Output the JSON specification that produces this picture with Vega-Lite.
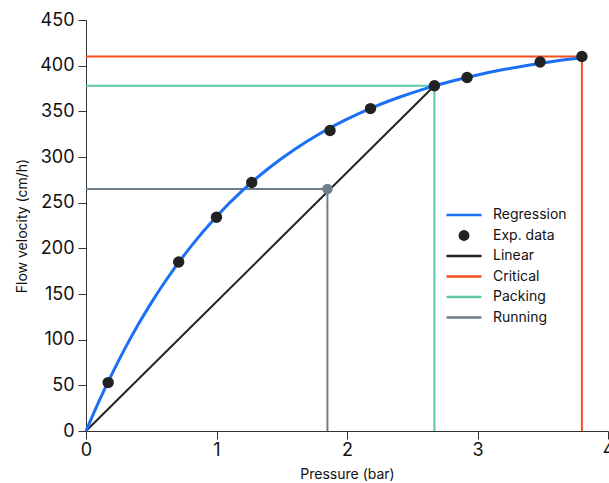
{
  "$schema": "https://vega.github.io/schema/vega-lite/v6.json",
  "width": 522,
  "height": 411,
  "autosize": "none",
  "padding": {"left": 86, "top": 20, "right": 1, "bottom": 52},
  "background": "white",
  "config": {
    "view": {"stroke": null},
    "font": "Inter",
    "axis": {
      "grid": false,
      "domainColor": "#333333",
      "tickColor": "#333333",
      "tickSize": 8,
      "labelFontSize": 18,
      "labelColor": "#111111",
      "titleFontSize": 14,
      "titleFontWeight": "normal",
      "titleColor": "#111111",
      "labelFont": "Inter",
      "titleFont": "Inter",
      "labelFlush": false,
      "labelOverlap": false
    }
  },
  "data": {
    "values": [
      {"series": "Regression", "x": 0, "y": 0, "o": 0},
      {"series": "Regression", "x": 0.1, "y": 32.7, "o": 1},
      {"series": "Regression", "x": 0.2, "y": 62.8, "o": 2},
      {"series": "Regression", "x": 0.3, "y": 90.7, "o": 3},
      {"series": "Regression", "x": 0.4, "y": 116.5, "o": 4},
      {"series": "Regression", "x": 0.5, "y": 140.3, "o": 5},
      {"series": "Regression", "x": 0.6, "y": 162.3, "o": 6},
      {"series": "Regression", "x": 0.8, "y": 201.4, "o": 7},
      {"series": "Regression", "x": 1.0, "y": 234.9, "o": 8},
      {"series": "Regression", "x": 1.2, "y": 263.4, "o": 9},
      {"series": "Regression", "x": 1.4, "y": 287.7, "o": 10},
      {"series": "Regression", "x": 1.6, "y": 308.5, "o": 11},
      {"series": "Regression", "x": 1.8, "y": 326.3, "o": 12},
      {"series": "Regression", "x": 2.0, "y": 341.4, "o": 13},
      {"series": "Regression", "x": 2.2, "y": 354.4, "o": 14},
      {"series": "Regression", "x": 2.4, "y": 365.4, "o": 15},
      {"series": "Regression", "x": 2.6, "y": 374.9, "o": 16},
      {"series": "Regression", "x": 2.8, "y": 382.9, "o": 17},
      {"series": "Regression", "x": 3.0, "y": 389.8, "o": 18},
      {"series": "Regression", "x": 3.2, "y": 395.7, "o": 19},
      {"series": "Regression", "x": 3.4, "y": 400.7, "o": 20},
      {"series": "Regression", "x": 3.6, "y": 405.0, "o": 21},
      {"series": "Regression", "x": 3.8, "y": 408.6, "o": 22},
      {"series": "Linear", "x": 0, "y": 0, "o": 0},
      {"series": "Linear", "x": 2.67, "y": 378, "o": 1},
      {"series": "Critical", "x": 0, "y": 410, "o": 0},
      {"series": "Critical", "x": 3.8, "y": 410, "o": 1},
      {"series": "Critical", "x": 3.8, "y": 0, "o": 2},
      {"series": "Packing", "x": 0, "y": 378, "o": 0},
      {"series": "Packing", "x": 2.67, "y": 378, "o": 1},
      {"series": "Packing", "x": 2.67, "y": 0, "o": 2},
      {"series": "Running", "x": 0, "y": 265, "o": 0},
      {"series": "Running", "x": 1.85, "y": 265, "o": 1},
      {"series": "Running", "x": 1.85, "y": 0, "o": 2},
      {"series": "RunPoint", "x": 1.85, "y": 265, "o": 0},
      {"series": "Exp. data", "x": 0.17, "y": 53, "o": 0},
      {"series": "Exp. data", "x": 0.71, "y": 185, "o": 1},
      {"series": "Exp. data", "x": 1.0, "y": 234, "o": 2},
      {"series": "Exp. data", "x": 1.27, "y": 272, "o": 3},
      {"series": "Exp. data", "x": 1.87, "y": 329, "o": 4},
      {"series": "Exp. data", "x": 2.18, "y": 353, "o": 5},
      {"series": "Exp. data", "x": 2.67, "y": 378, "o": 6},
      {"series": "Exp. data", "x": 2.92, "y": 387, "o": 7},
      {"series": "Exp. data", "x": 3.48, "y": 404, "o": 8},
      {"series": "Exp. data", "x": 3.8, "y": 410, "o": 9}
    ]
  },
  "encoding": {
    "x": {"field": "x", "type": "quantitative", "title": "Pressure (bar)",
      "scale": {"domain": [0, 4], "nice": false},
      "axis": {"values": [0, 1, 2, 3, 4], "labelPadding": 2, "titlePadding": 8}},
    "y": {"field": "y", "type": "quantitative", "title": "Flow velocity (cm/h)",
      "scale": {"domain": [0, 450], "nice": false},
      "axis": {"values": [0, 50, 100, 150, 200, 250, 300, 350, 400, 450], "labelPadding": 4, "titlePadding": 10}}
  },
  "layer": [
    {
      "transform": [{"filter": "datum.series !== 'Exp. data' && datum.series !== 'RunPoint' && datum.series !== 'Regression'"}],
      "mark": {"type": "line", "strokeWidth": 2, "clip": false},
      "encoding": {
        "color": {"field": "series", "type": "nominal",
          "scale": {"domain": ["Regression", "Exp. data", "Linear", "Critical", "Packing", "Running"],
                    "range": ["#1a6ff5", "#222222", "#222222", "#f2501e", "#5ec6a9", "#6e7e8b"]},
          "legend": {
            "title": null,
            "orient": "none",
            "legendX": 371,
            "legendY": 188,
            "labelFontSize": 14,
            "labelFont": "Inter",
            "labelColor": "#111111",
            "rowPadding": 6.5,
            "labelOffset": 22,
            "symbolSize": 1225,
            "symbolType": "stroke",
            "symbolStrokeWidth": 2.5,
            "encode": {
              "symbols": {
                "update": {
                  "shape": {"signal": "datum.value === 'Exp. data' ? 'circle' : 'stroke'"},
                  "size": {"signal": "datum.value === 'Exp. data' ? 120 : 1225"},
                  "fill": {"signal": "datum.value === 'Exp. data' ? '#222222' : 'transparent'"},
                  "stroke": {"signal": "scale('color', datum.value)"},
                  "strokeWidth": {"signal": "datum.value === 'Exp. data' ? 0 : 2.5"},
                  "opacity": {"value": 1}
                }
              }
            }
          }},
        "order": {"field": "o", "type": "quantitative"},
        "detail": {"field": "series"}
      }
    },
    {
      "transform": [{"filter": "datum.series === 'Regression'"}],
      "mark": {"type": "line", "strokeWidth": 3, "color": "#1a6ff5", "interpolate": "monotone"},
      "encoding": {"order": {"field": "o", "type": "quantitative"}}
    },
    {
      "transform": [{"filter": "datum.series === 'RunPoint'"}],
      "mark": {"type": "point", "filled": true, "size": 110, "color": "#6e7e8b", "opacity": 1}
    },
    {
      "transform": [{"filter": "datum.series === 'Exp. data'"}],
      "mark": {"type": "point", "filled": true, "size": 130, "color": "#222222", "opacity": 1, "clip": false}
    }
  ]
}
